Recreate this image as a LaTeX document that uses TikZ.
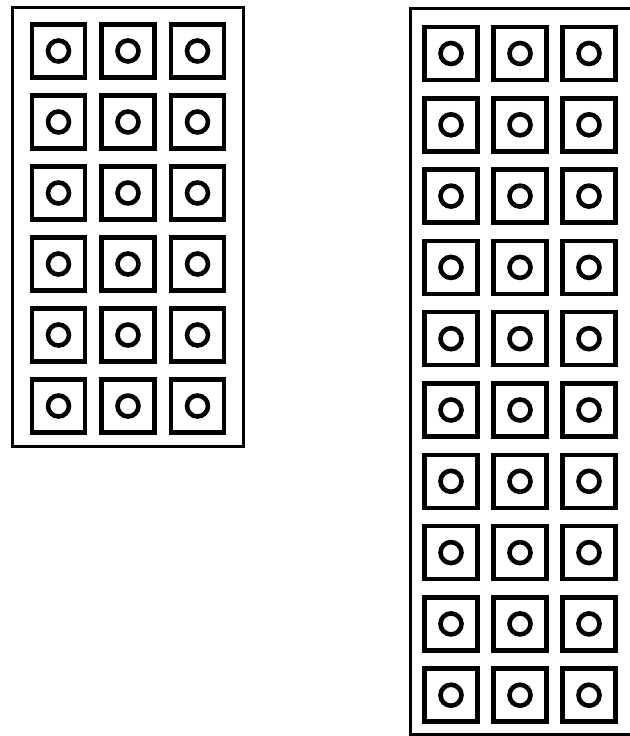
\documentclass[tikz,border=0pt]{standalone}
\usetikzlibrary{positioning}
\begin{document}
\begin{tikzpicture}[x=1pt, y=-1pt,
    tray/.style={draw, line width=3pt},
    cell/.style={rectangle, draw, line width=4.5pt, minimum width=53pt, minimum height=53pt, inner sep=0pt},
    hole/.style={circle, draw, line width=4.6pt, minimum size=21pt, inner sep=0pt}
  ]
    \useasboundingbox (0,0) rectangle (629,736);

    % Small tray, 3 x 6
    \draw[tray] (12,7) rectangle (243,446);
    \foreach \i in {1,2,3}
      \foreach \j in {1,...,6} {
        \node[cell] (sc-\i-\j) at ({58.5+69.5*(\i-1)}, {51+71*(\j-1)}) {};
        \node[hole] (sh-\i-\j) at (sc-\i-\j.center) {};
      }

    % Large tray, 3 x 10
    \draw[tray] (410,8) rectangle (640,734);
    \foreach \i in {1,2,3}
      \foreach \j in {1,...,10} {
        \node[cell] (lc-\i-\j) at ({451+69*(\i-1)}, {53.5+71.3*(\j-1)}) {};
        \node[hole] (lh-\i-\j) at (lc-\i-\j.center) {};
      }
\end{tikzpicture}
\end{document}
